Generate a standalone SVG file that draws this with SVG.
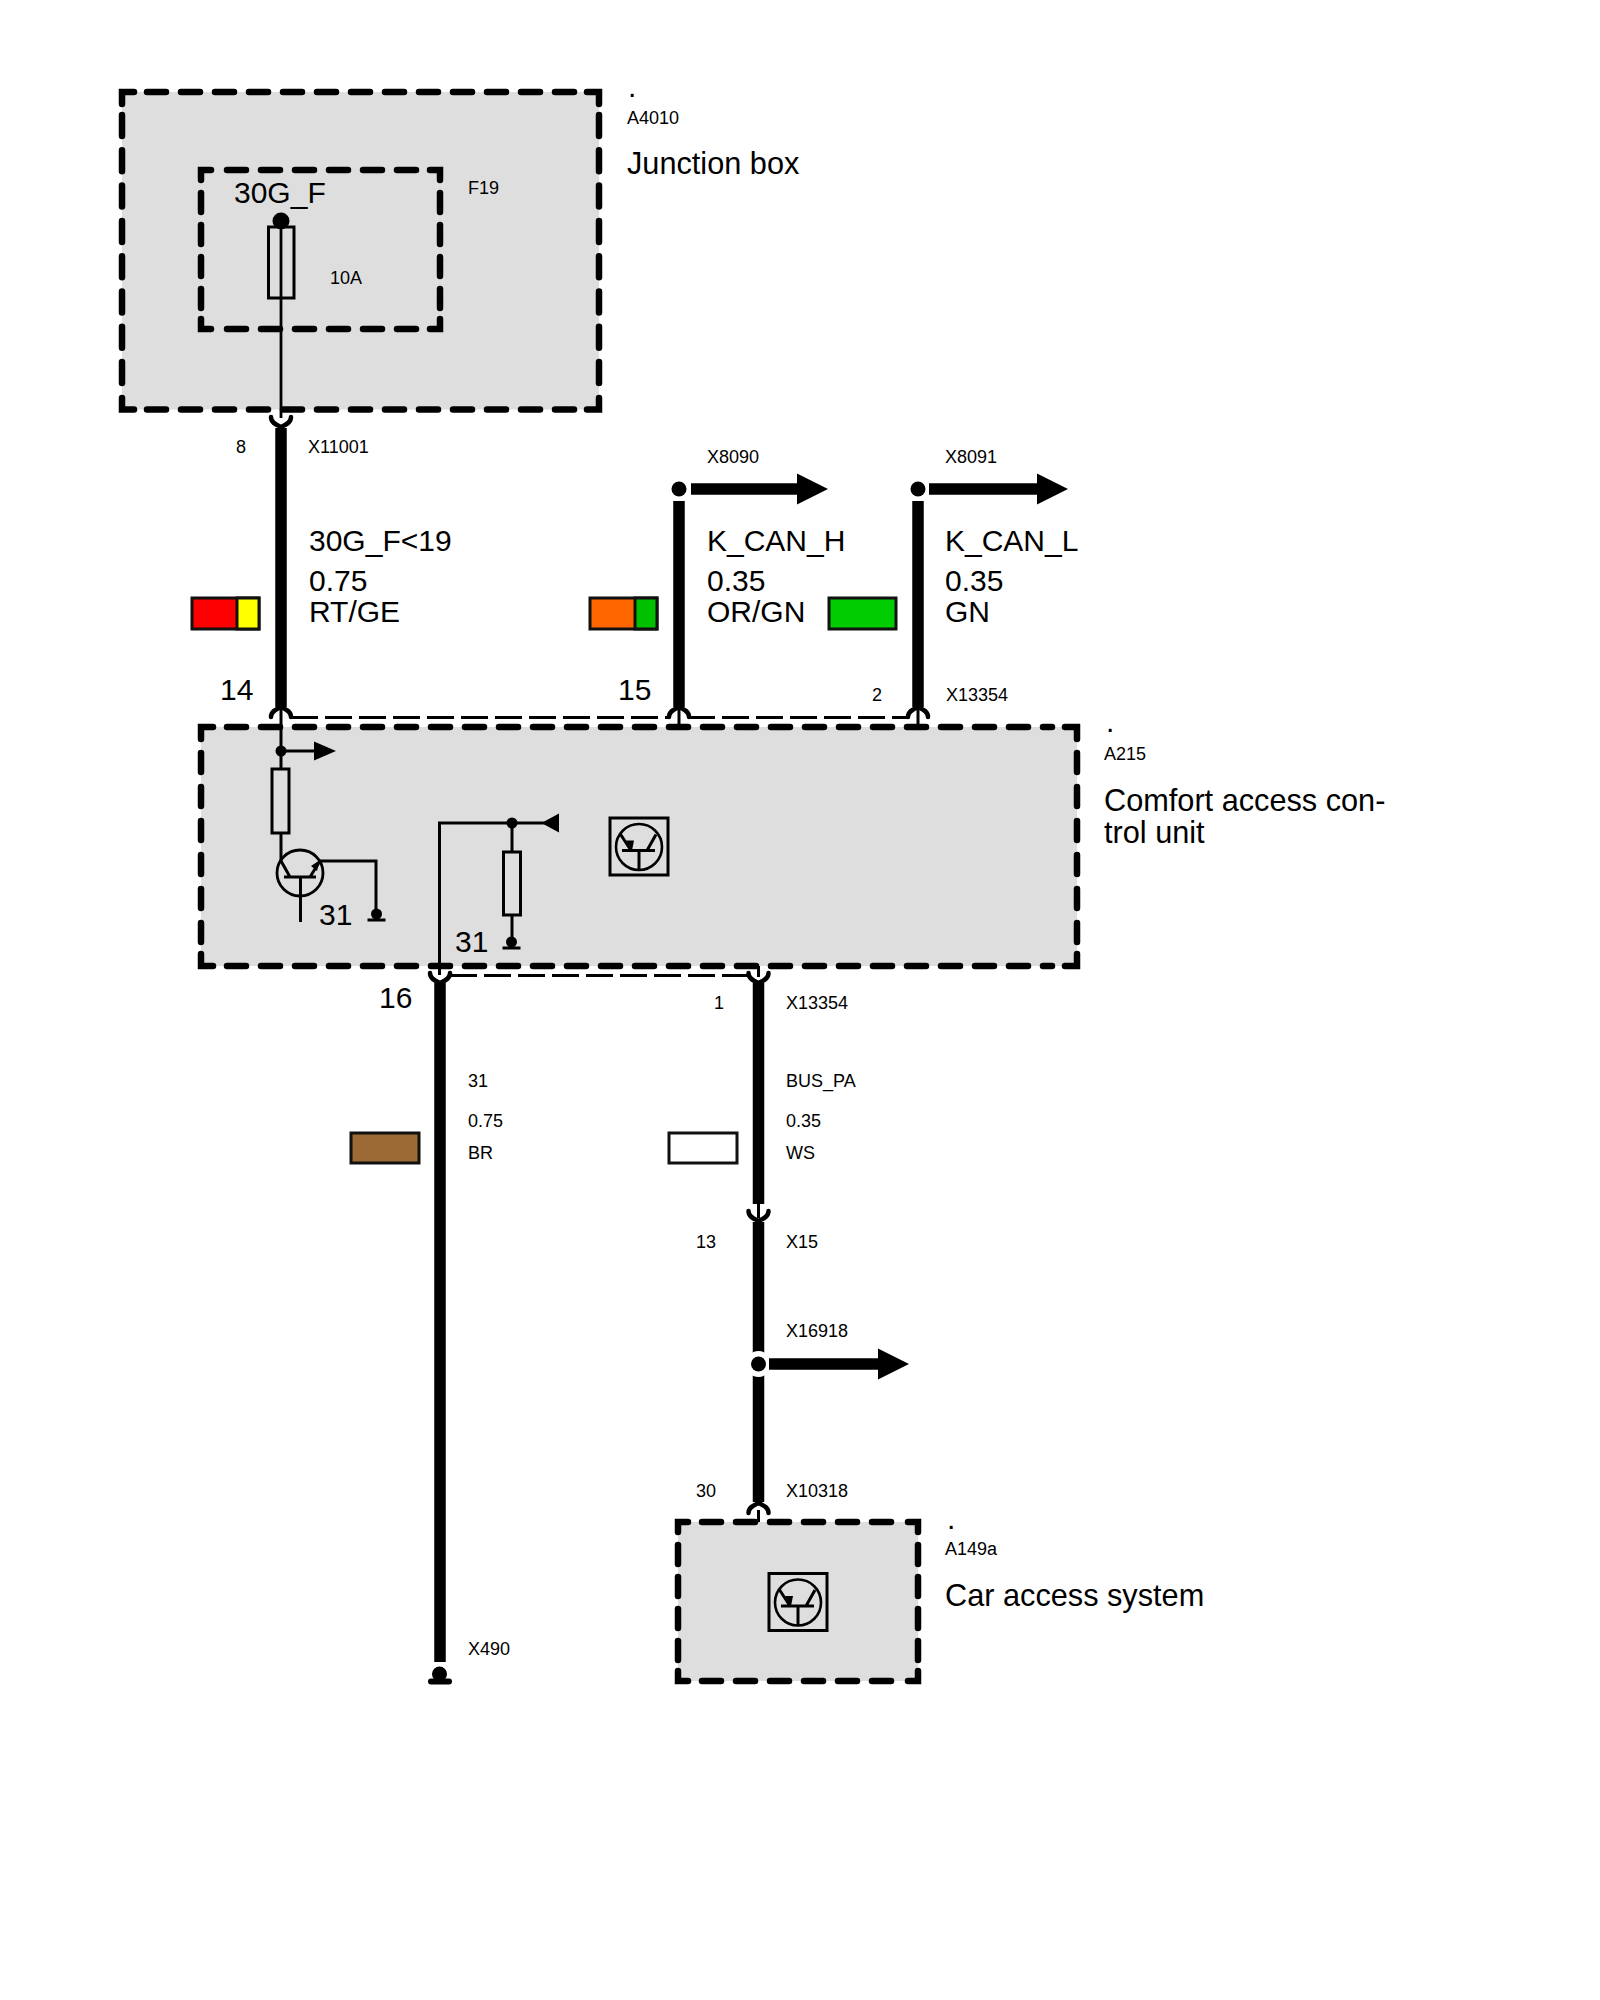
<svg xmlns="http://www.w3.org/2000/svg" width="1600" height="2000" viewBox="0 0 1600 2000">
<style>
text{font-family:"Liberation Sans",Arial,sans-serif;fill:#000}
.s{font-size:18px}
.l{font-size:30px}
.t{font-size:30.700px}
.bg{fill:#dedede}
.dh{fill:none;stroke:#000;stroke-width:6.5;stroke-linecap:round;stroke-dasharray:19 15}
.dv{fill:none;stroke:#000;stroke-width:6.5;stroke-linecap:round;stroke-dasharray:19 15}
.cn{fill:none;stroke:#000;stroke-width:6.5;stroke-linecap:round;stroke-linejoin:miter}
.thick{fill:none;stroke:#000;stroke-width:11.500}
.thin{fill:none;stroke:#000;stroke-width:2.8}
.sym{fill:none;stroke:#000;stroke-width:3}
.link{fill:none;stroke:#000;stroke-width:3;stroke-dasharray:27 7}
.fork{fill:none;stroke:#000;stroke-width:4.5;stroke-linecap:round}
.k{fill:#000;stroke:none}
.sw{stroke:#111;stroke-width:3}
</style>
<defs>
<path id="fork" class="fork" d="M-10 -11C-10 -5 -4 -3 0 -1C4 -3 10 -5 10 -11"/>
<path id="head" class="k" d="M0 -15.5L31 0L0 15.5Z"/>
<g id="ic">
<rect x="-29" y="-28.5" width="58" height="57" fill="none" stroke="#000" stroke-width="3"/>
<circle cx="0" cy="0.5" r="23" fill="none" stroke="#000" stroke-width="2.6"/>
<path class="sym" d="M-17 4H16M0 4V24M-19 -13L-8 4M17 -12L8 4"/>
<path class="k" d="M-7 4L-13 -6L-5 -6Z"/>
</g>
<g id="gnd">
<circle cx="0" cy="-6" r="5.5" class="k"/>
<path d="M-9 0H9" stroke="#000" stroke-width="3"/>
</g>
</defs>

<g id="junction-box">
<rect class="bg" x="122" y="92" width="477" height="317.500"/>
<path class="dh" d="M147 92H574M147 409.500H574"/>
<path class="dv" style="stroke-dasharray:21 14.3" d="M122 115V383M599 115V383"/>
<path class="cn" d="M122 104V92H134M587 92H599V104M122 398V409.500H134M587 409.500H599V398"/>
<text class="l" x="628" y="97">.</text>
<text class="s" x="627" y="124">A4010</text>
<text class="t" x="627" y="174">Junction box</text>
</g>

<g id="fuse-f19">
<path class="dh" d="M227 170H416M227 329H416"/>
<path class="dv" style="stroke-dasharray:19 13" d="M201 193V308M440 193V308"/>
<path class="cn" d="M201 180V170H211M430 170H440V180M201 319V329H211M430 329H440V319"/>
<rect class="sym" x="268.500" y="227" width="25.500" height="71"/>
<circle class="k" cx="281" cy="221" r="8.500"/>
<text class="s" x="468" y="194">F19</text>
<text class="l" x="234" y="203">30G_F</text>
<text class="s" x="330" y="284">10A</text>
</g>

<g id="comfort-access-control-unit">
<rect class="bg" x="201" y="727" width="876" height="239"/>
<path class="dh" d="M227 727H1052M227 966H1052"/>
<path class="dv" d="M201 753V942M1077 753V942"/>
<path class="cn" d="M201 739V727H213M1065 727H1077V739M201 954V966H213M1065 966H1077V954"/>
<rect class="sym" x="272" y="769" width="17" height="64"/>
<rect class="sym" x="503.500" y="852" width="17" height="63"/>
<circle class="k" cx="281" cy="751" r="5.500"/>
<path class="k" d="M314 741.500L336 751L314 760.500Z"/>
<path class="thin" d="M281 751H315"/>
<circle class="thin" cx="300" cy="873" r="23"/>
<path class="sym" d="M284 877H316M300.500 877V922M280.500 860L290 877M310 877L320 861H376V912"/>
<path class="k" d="M320 860L311 866L317 871Z"/>
<use href="#gnd" x="376.500" y="920"/>
<text class="l" x="319" y="925">31</text>
<path class="sym" d="M439.500 975V823H545M512 823V852M512 915V942"/>
<circle class="k" cx="512" cy="823" r="5.500"/>
<path class="k" d="M541.500 823L559 813.500V832.500Z"/>
<use href="#gnd" x="511.500" y="948"/>
<text class="l" x="455" y="952">31</text>
<use id="ic-a215" href="#ic" x="639" y="846.500"/>
<text class="l" x="1106" y="732">.</text>
<text class="s" x="1104" y="760">A215</text>
<text class="t" x="1104" y="811">Comfort access con-</text>
<text class="t" x="1104" y="843">trol unit</text>
</g>

<g id="car-access-system">
<rect class="bg" x="678" y="1522" width="240" height="159"/>
<path class="dh" d="M702 1522H891M702 1681H891"/>
<path class="dv" style="stroke-dasharray:19 13" d="M678 1545V1660M918 1545V1660"/>
<path class="cn" d="M678 1532V1522H688M908 1522H918V1532M678 1671V1681H688M908 1681H918V1671"/>
<use id="ic-a149a" href="#ic" x="798" y="1602"/>
<text class="l" x="947" y="1529">.</text>
<text class="s" x="945" y="1555">A149a</text>
<text class="t" x="945" y="1606">Car access system</text>
</g>

<g id="connectors">
<path class="thin" d="M281 221V418"/>
<path class="thick" d="M281 428V707M679 501V707M918 501V707M440 983V1662M758.500 983V1204M758.500 1222V1502"/>
<use href="#fork" x="281" y="428"/>
<use href="#fork" transform="translate(281 706) scale(1 -1)"/>
<use href="#fork" transform="translate(679 706) scale(1 -1)"/>
<use href="#fork" transform="translate(918 706) scale(1 -1)"/>
<use href="#fork" x="440" y="984"/>
<use href="#fork" x="758.500" y="984"/>
<use href="#fork" x="758.500" y="1222"/>
<use href="#fork" transform="translate(758.500 1502) scale(1 -1)"/>
<path class="sym" d="M281 707V769M281 833V860M679 708V727M918 708V727M758.500 966V977M758.500 1204V1218M758.500 1510V1522"/>
<path class="link" d="M291 717.500H668M688 717.500H907M450 975.500H748"/>
<circle cx="679" cy="489" r="7.500" class="k"/>
<path class="thick" d="M691 489H798"/>
<use href="#head" x="797" y="489"/>
<circle cx="918" cy="489" r="7.500" class="k"/>
<path class="thick" d="M929 489H1038"/>
<use href="#head" x="1037" y="489"/>
<circle cx="758.500" cy="1364" r="13" fill="#fff"/>
<circle cx="758.500" cy="1364" r="7.500" class="k"/>
<path class="thick" d="M769 1364H878"/>
<use href="#head" x="878" y="1364"/>
<circle cx="439.500" cy="1674" r="7.500" class="k"/>
<path d="M431 1681.500H449" stroke="#000" stroke-width="6" stroke-linecap="round"/>
</g>

<g id="swatches">
<rect class="sw" x="192" y="598" width="67" height="31" fill="#ff0000"/>
<rect class="sw" x="237" y="598" width="22" height="31" fill="#ffff00"/>
<rect class="sw" x="590" y="598" width="67" height="31" fill="#ff6600"/>
<rect class="sw" x="635" y="598" width="22" height="31" fill="#00c000"/>
<rect class="sw" x="829" y="598" width="67" height="31" fill="#00cc00"/>
<rect class="sw" x="351" y="1133" width="68" height="30" fill="#9c6a34"/>
<rect class="sw" x="669" y="1133" width="68" height="30" fill="#fff"/>
</g>

<g id="labels">
<text class="s" x="236" y="453">8</text>
<text class="s" x="308" y="453">X11001</text>
<text class="s" x="707" y="463">X8090</text>
<text class="s" x="945" y="463">X8091</text>
<text class="l" x="309" y="551">30G_F&lt;19</text>
<text class="l" x="309" y="591">0.75</text>
<text class="l" x="309" y="622">RT/GE</text>
<text class="l" x="707" y="551">K_CAN_H</text>
<text class="l" x="707" y="591">0.35</text>
<text class="l" x="707" y="622">OR/GN</text>
<text class="l" x="945" y="551">K_CAN_L</text>
<text class="l" x="945" y="591">0.35</text>
<text class="l" x="945" y="622">GN</text>
<text class="l" x="220" y="700">14</text>
<text class="l" x="618" y="700">15</text>
<text class="s" x="872" y="701">2</text>
<text class="s" x="946" y="701">X13354</text>
<text class="l" x="379" y="1008">16</text>
<text class="s" x="714" y="1009">1</text>
<text class="s" x="786" y="1009">X13354</text>
<text class="s" x="468" y="1087">31</text>
<text class="s" x="468" y="1127">0.75</text>
<text class="s" x="468" y="1159">BR</text>
<text class="s" x="786" y="1087">BUS_PA</text>
<text class="s" x="786" y="1127">0.35</text>
<text class="s" x="786" y="1159">WS</text>
<text class="s" x="696" y="1248">13</text>
<text class="s" x="786" y="1248">X15</text>
<text class="s" x="786" y="1337">X16918</text>
<text class="s" x="696" y="1497">30</text>
<text class="s" x="786" y="1497">X10318</text>
<text class="s" x="468" y="1655">X490</text>
</g>
</svg>
